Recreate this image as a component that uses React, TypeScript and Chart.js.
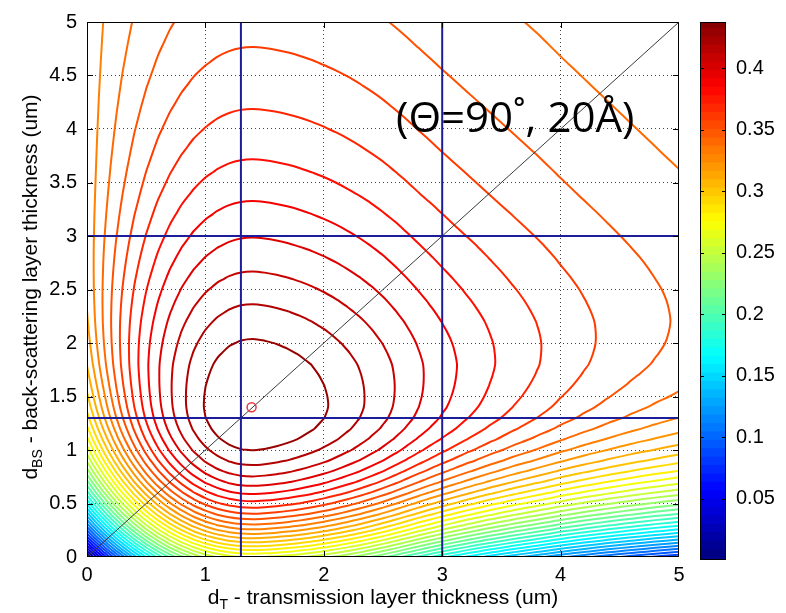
import React, { useEffect, useRef } from "react";
import { Chart, registerables } from "chart.js";

Chart.register(...registerables);

// ---------------- data ----------------
// layer-thickness sample points (um), used for both d_T (x) and d_BS (y)
const THICKNESS_UM = [0, 0.05, 0.1, 0.15, 0.2, 0.25, 0.3, 0.4, 0.5, 0.6, 0.7, 0.8, 0.9, 1.0, 1.1, 1.2, 1.3, 1.4, 1.5, 1.6, 1.7, 1.8, 1.9, 2.0, 2.1, 2.2, 2.3, 2.4, 2.5, 2.6, 2.7, 2.8, 2.9, 3.0, 3.2, 3.4, 3.6, 3.8, 4.0, 4.2, 4.4, 4.6, 4.8, 5.0];
// efficiency of the transmission layer on its own (bottom edge, d_BS = 0)
const TRANSMISSION_EFF = [0, 0.0202, 0.0394, 0.0577, 0.075, 0.0915, 0.1071, 0.1357, 0.161, 0.1831, 0.2022, 0.2183, 0.2317, 0.2423, 0.2503, 0.2559, 0.2591, 0.26, 0.259, 0.2571, 0.2545, 0.2512, 0.2473, 0.2428, 0.2377, 0.2321, 0.226, 0.2193, 0.2122, 0.2045, 0.1965, 0.1885, 0.1809, 0.1735, 0.1598, 0.1471, 0.1354, 0.1247, 0.114, 0.1045, 0.0958, 0.0878, 0.0805, 0.0738];
// efficiency of the back-scattering layer on its own (left edge, d_T = 0)
const BACKSCATTER_EFF = [0, 0.0202, 0.0394, 0.0577, 0.0752, 0.0918, 0.1075, 0.1366, 0.1627, 0.186, 0.2067, 0.2249, 0.2409, 0.2547, 0.2665, 0.2765, 0.2848, 0.2914, 0.2967, 0.3013, 0.3053, 0.3088, 0.3115, 0.3138, 0.3156, 0.3171, 0.3182, 0.3191, 0.3198, 0.3203, 0.3207, 0.321, 0.3212, 0.3213, 0.3214, 0.3214, 0.3214, 0.3214, 0.3214, 0.3214, 0.3214, 0.3214, 0.3214, 0.3214];
// fraction of neutrons passing the back-scattering layer
const BACKSCATTER_PASS = [1, 0.9795, 0.9595, 0.9399, 0.9207, 0.9018, 0.8834, 0.8476, 0.8133, 0.7804, 0.7488, 0.7185, 0.6894, 0.6615, 0.6347, 0.609, 0.5843, 0.5607, 0.538, 0.5162, 0.4953, 0.4753, 0.456, 0.4375, 0.4198, 0.4028, 0.3865, 0.3709, 0.3559, 0.3415, 0.3276, 0.3144, 0.3016, 0.2894, 0.2665, 0.2453, 0.2259, 0.2079, 0.1915, 0.1763, 0.1623, 0.1494, 0.1376, 0.1267];

// contour levels of the total efficiency
const CONTOUR_LEVELS = [0.0132, 0.023, 0.0329, 0.0427, 0.0526, 0.0624, 0.0723, 0.0821, 0.0919, 0.1018, 0.1116, 0.1215, 0.1313, 0.1411, 0.151, 0.1608, 0.1707, 0.1805, 0.1903, 0.2002, 0.21, 0.2199, 0.2297, 0.2395, 0.2494, 0.2592, 0.2691, 0.2789, 0.2887, 0.2986, 0.3084, 0.3183, 0.3281, 0.3379, 0.3478, 0.3577, 0.3675, 0.3774, 0.3872, 0.397, 0.4069, 0.4167, 0.4265];
const COLOR_RANGE = [0, 0.4375];

const X_TICKS = [0, 1, 2, 3, 4, 5];
const Y_TICKS = [0, 0.5, 1, 1.5, 2, 2.5, 3, 3.5, 4, 4.5, 5];
const COLORBAR_TICKS = [0.05, 0.1, 0.15, 0.2, 0.25, 0.3, 0.35, 0.4];
const AXIS_RANGE = [0, 5];

const GUIDE_T = [1.3, 3.0];
const GUIDE_BS = [1.3, 3.0];
const OPTIMUM = [1.39, 1.4];

const TICK_FONT = { family: "'Liberation Sans', Arial, sans-serif", size: 20 };

// ---------------- helpers ----------------
function jet(t: number): string {
  const c = (v: number) => Math.max(0, Math.min(1, v));
  const r = c(1.5 - Math.abs(4 * t - 3));
  const g = c(1.5 - Math.abs(4 * t - 2));
  const b = c(1.5 - Math.abs(4 * t - 1));
  return `rgb(${Math.round(r * 255)},${Math.round(g * 255)},${Math.round(b * 255)})`;
}

const fmt = (v: any) => String(Number(Number(v).toFixed(3)));

function buildField(): number[][] {
  const n = Math.min(THICKNESS_UM.length, TRANSMISSION_EFF.length, BACKSCATTER_EFF.length, BACKSCATTER_PASS.length);
  const z: number[][] = [];
  for (let j = 0; j < n; j++) {
    const row: number[] = [];
    for (let i = 0; i < n; i++) row.push(BACKSCATTER_EFF[j] + BACKSCATTER_PASS[j] * TRANSMISSION_EFF[i]);
    z.push(row);
  }
  return z;
}

type Pt = { x: number; y: number };

function contourChains(z: number[][], g: number[], level: number): Pt[][] {
  const n = z.length;
  const pts = new Map<string, Pt>();
  const adj = new Map<string, string[]>();
  const edgePoint = (key: string, x1: number, y1: number, v1: number, x2: number, y2: number, v2: number) => {
    if (!pts.has(key)) {
      const t = (level - v1) / (v2 - v1);
      pts.set(key, { x: x1 + t * (x2 - x1), y: y1 + t * (y2 - y1) });
    }
    return key;
  };
  const link = (p: string, q: string) => {
    if (!adj.has(p)) adj.set(p, []);
    if (!adj.has(q)) adj.set(q, []);
    adj.get(p)!.push(q);
    adj.get(q)!.push(p);
  };
  for (let j = 0; j < n - 1; j++) {
    for (let i = 0; i < n - 1; i++) {
      const a = z[j][i], b = z[j][i + 1], c = z[j + 1][i + 1], d = z[j + 1][i];
      const x0 = g[i], x1 = g[i + 1], y0 = g[j], y1 = g[j + 1];
      const A = a >= level, B = b >= level, C = c >= level, D = d >= level;
      const bottom = A !== B ? edgePoint(`h${i},${j}`, x0, y0, a, x1, y0, b) : null;
      const right = B !== C ? edgePoint(`v${i + 1},${j}`, x1, y0, b, x1, y1, c) : null;
      const top = D !== C ? edgePoint(`h${i},${j + 1}`, x0, y1, d, x1, y1, c) : null;
      const left = A !== D ? edgePoint(`v${i},${j}`, x0, y0, a, x0, y1, d) : null;
      const list = [bottom, right, top, left].filter((k) => k !== null) as string[];
      if (list.length === 2) link(list[0], list[1]);
      else if (list.length === 4) {
        const center = (a + b + c + d) / 4 >= level;
        if (A === center) {
          link(bottom!, right!);
          link(top!, left!);
        } else {
          link(bottom!, left!);
          link(right!, top!);
        }
      }
    }
  }
  const used = new Set<string>();
  const walk = (start: string): Pt[] => {
    const path = [start];
    used.add(start);
    let prev: string | null = null;
    let cur = start;
    for (;;) {
      const nb = adj.get(cur)!;
      const next = nb.find((k) => k !== prev && !used.has(k));
      if (!next) {
        if (path.length > 2 && nb.includes(start)) path.push(start);
        break;
      }
      path.push(next);
      used.add(next);
      prev = cur;
      cur = next;
    }
    return path.map((k) => pts.get(k)!);
  };
  const out: Pt[][] = [];
  for (const [k, nb] of adj) if (nb.length === 1 && !used.has(k)) out.push(walk(k));
  for (const k of adj.keys()) if (!used.has(k)) out.push(walk(k));
  return out;
}

const framePlugin = {
  id: "frame",
  afterDatasetsDraw(chart: any) {
    const { ctx, chartArea, scales } = chart;
    const { left, right, top, bottom } = chartArea;
    ctx.save();
    ctx.strokeStyle = "#000";
    ctx.lineWidth = 1;
    ctx.beginPath();
    for (const v of X_TICKS) {
      if (v === AXIS_RANGE[0] || v === AXIS_RANGE[1]) continue;
      const px = Math.round(scales.x.getPixelForValue(v)) + 0.5;
      ctx.moveTo(px, bottom);
      ctx.lineTo(px, bottom - 6);
      ctx.moveTo(px, top);
      ctx.lineTo(px, top + 6);
    }
    for (const v of Y_TICKS) {
      if (v === AXIS_RANGE[0] || v === AXIS_RANGE[1]) continue;
      const py = Math.round(scales.y.getPixelForValue(v)) + 0.5;
      ctx.moveTo(left, py);
      ctx.lineTo(left + 6, py);
      ctx.moveTo(right, py);
      ctx.lineTo(right - 6, py);
    }
    ctx.stroke();
    ctx.strokeRect(left + 0.5, top + 0.5, right - left - 1, bottom - top - 1);
    ctx.restore();
  },
};

const colorbarFrame = {
  id: "cbframe",
  afterDatasetsDraw(chart: any) {
    const { ctx, chartArea, scales } = chart;
    const { left, right, top, bottom } = chartArea;
    ctx.save();
    ctx.strokeStyle = "#000";
    ctx.lineWidth = 1;
    ctx.beginPath();
    for (const v of COLORBAR_TICKS) {
      const py = Math.round(scales.y.getPixelForValue(v)) + 0.5;
      ctx.moveTo(right, py);
      ctx.lineTo(right - 4, py);
      ctx.moveTo(left, py);
      ctx.lineTo(left + 4, py);
    }
    ctx.stroke();
    ctx.strokeRect(left + 0.5, top + 0.5, right - left - 1, bottom - top - 1);
    ctx.restore();
  },
};

function mainConfig(): any {
  const z = buildField();
  const datasets: any[] = [];
  datasets.push({
    data: [{ x: OPTIMUM[0], y: OPTIMUM[1] }],
    showLine: false,
    pointRadius: 4.5,
    pointBorderWidth: 1.5,
    pointBorderColor: "#e8383d",
    pointBackgroundColor: "rgba(0,0,0,0)",
    order: 0,
  });
  for (const t of GUIDE_T) {
    datasets.push({
      data: [{ x: t, y: AXIS_RANGE[0] }, { x: t, y: AXIS_RANGE[1] }],
      showLine: true, borderColor: "#1d1d9a", borderWidth: 2, pointRadius: 0, order: 1,
    });
  }
  for (const b of GUIDE_BS) {
    datasets.push({
      data: [{ x: AXIS_RANGE[0], y: b }, { x: AXIS_RANGE[1], y: b }],
      showLine: true, borderColor: "#1d1d9a", borderWidth: 2, pointRadius: 0, order: 1,
    });
  }
  datasets.push({
    data: [{ x: AXIS_RANGE[0], y: AXIS_RANGE[0] }, { x: AXIS_RANGE[1], y: AXIS_RANGE[1] }],
    showLine: true, borderColor: "#3a3a3a", borderWidth: 1, pointRadius: 0, order: 2,
  });
  const g = THICKNESS_UM.slice(0, z.length);
  for (const lv of CONTOUR_LEVELS) {
    const color = jet((lv - COLOR_RANGE[0]) / (COLOR_RANGE[1] - COLOR_RANGE[0]));
    for (const chain of contourChains(z, g, lv)) {
      if (chain.length < 2) continue;
      datasets.push({
        data: chain,
        showLine: true,
        borderColor: color,
        borderWidth: 2,
        pointRadius: 0,
        tension: 0.3,
        order: 10,
      });
    }
  }
  const gridColor = (ctx: any) =>
    ctx.tick && (ctx.tick.value === AXIS_RANGE[0] || ctx.tick.value === AXIS_RANGE[1]) ? "rgba(0,0,0,0)" : "#444";
  return {
    type: "scatter",
    data: { datasets },
    options: {
      animation: false,
      responsive: false,
      events: [],
      layout: { padding: { top: 17, right: 107, left: 0, bottom: 0 } },
      plugins: { legend: { display: false }, tooltip: { enabled: false }, title: { display: false } },
      scales: {
        x: {
          type: "linear",
          min: AXIS_RANGE[0],
          max: AXIS_RANGE[1],
          afterBuildTicks: (s: any) => { s.ticks = X_TICKS.map((v) => ({ value: v })); },
          afterFit: (s: any) => { s.height = 56; },
          ticks: { font: TICK_FONT, color: "#000", padding: 6, maxRotation: 0, autoSkip: false, callback: fmt },
          grid: { color: gridColor, lineWidth: 1, drawTicks: false },
          border: { display: false, dash: [1, 3] },
        },
        y: {
          type: "linear",
          min: AXIS_RANGE[0],
          max: AXIS_RANGE[1],
          afterBuildTicks: (s: any) => { s.ticks = Y_TICKS.map((v) => ({ value: v })); },
          afterFit: (s: any) => { s.width = 87; },
          ticks: { font: TICK_FONT, color: "#000", padding: 10, autoSkip: false, callback: fmt },
          grid: { color: gridColor, lineWidth: 1, drawTicks: false },
          border: { display: false, dash: [1, 3] },
        },
      },
    },
    plugins: [framePlugin],
  };
}

function colorbarConfig(): any {
  const steps = 64;
  const span = COLOR_RANGE[1] - COLOR_RANGE[0];
  const datasets: any[] = [];
  for (let i = 0; i < steps; i++) {
    const lo = COLOR_RANGE[0] + (span * i) / steps;
    const hi = COLOR_RANGE[0] + (span * (i + 1)) / steps;
    datasets.push({
      data: [[lo, Math.min(COLOR_RANGE[1], hi + span * 0.004)]],
      backgroundColor: jet((i + 0.5) / steps),
      borderWidth: 0,
      barPercentage: 1,
      categoryPercentage: 1,
      grouped: false,
    });
  }
  return {
    type: "bar",
    data: { labels: [""], datasets },
    options: {
      animation: false,
      responsive: false,
      events: [],
      layout: { padding: { top: 16, left: 10, bottom: 53, right: 0 } },
      plugins: { legend: { display: false }, tooltip: { enabled: false } },
      scales: {
        x: { display: false },
        y: {
          position: "right",
          min: COLOR_RANGE[0],
          max: COLOR_RANGE[1],
          afterBuildTicks: (s: any) => { s.ticks = COLORBAR_TICKS.map((v) => ({ value: v })); },
          afterFit: (s: any) => { s.width = 60; },
          ticks: { font: TICK_FONT, color: "#000", padding: 10, callback: fmt },
          grid: { display: false, drawTicks: false },
          border: { display: false },
        },
      },
    },
    plugins: [colorbarFrame],
  };
}

export default function App() {
  const mainRef = useRef<HTMLCanvasElement>(null);
  const barRef = useRef<HTMLCanvasElement>(null);
  useEffect(() => {
    const main = new Chart(mainRef.current!, mainConfig());
    const bar = new Chart(barRef.current!, colorbarConfig());
    return () => {
      main.destroy();
      bar.destroy();
    };
  }, []);
  const titleFont = "'Liberation Sans', Arial, sans-serif";
  return (
    <div style={{ position: "absolute", left: 0, top: 0, width: 786, height: 613, overflow: "hidden", background: "#fff" }}>
      <canvas ref={mainRef} width={786} height={613} style={{ position: "absolute", left: 0, top: 0, width: 786, height: 613 }} />
      <canvas ref={barRef} width={96} height={613} style={{ position: "absolute", left: 690, top: 0, width: 96, height: 613 }} />
      <div style={{ position: "absolute", left: 87, top: 585, width: 592, textAlign: "center", fontFamily: titleFont, fontSize: 21, lineHeight: "24px", color: "#000", whiteSpace: "nowrap" }}>
        d<sub style={{ fontSize: 14, lineHeight: 0 }}>T</sub> - transmission layer thickness (um)
      </div>
      <div style={{ position: "absolute", left: 30 - 270, top: 287 - 12, width: 540, height: 24, transform: "rotate(-90deg)", textAlign: "center", fontFamily: titleFont, fontSize: 21, lineHeight: "24px", color: "#000", whiteSpace: "nowrap" }}>
        d<sub style={{ fontSize: 14, lineHeight: 0 }}>BS</sub> - back-scattering layer thickness (um)
      </div>
      <div style={{ position: "absolute", left: 396, top: 95, fontFamily: "'Open Sans', 'Noto Sans', sans-serif", fontSize: 42, lineHeight: "42px", color: "#000", whiteSpace: "nowrap" }}>
        (Θ=90˚, 20Å)
      </div>
    </div>
  );
}
